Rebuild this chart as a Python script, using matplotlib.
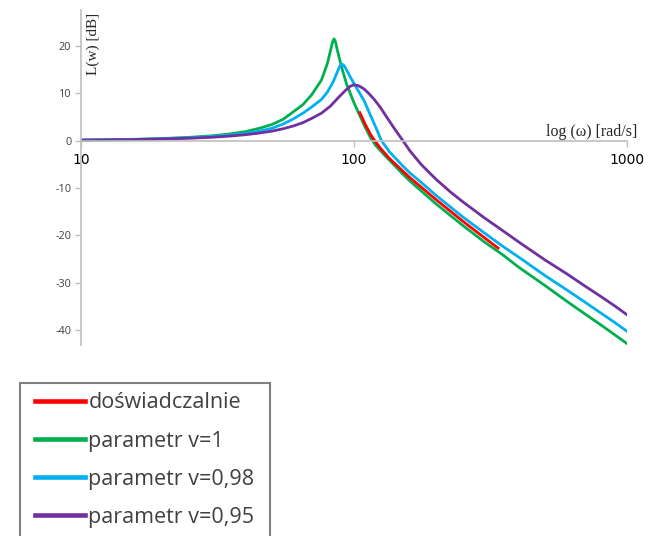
import numpy as np
import matplotlib
matplotlib.use('Agg')
import matplotlib.pyplot as plt
from matplotlib.lines import Line2D
from matplotlib.patches import Rectangle

plt.rcParams['axes.unicode_minus'] = False

# omega [rad/s], L [dB]
w_exp = [105, 110, 115, 119, 125, 135, 150, 160, 176, 200, 250, 300, 337]
L_exp = [5.9, 3.4, 1.3, 0.0, -1.6, -3.8, -6.3, -7.8, -9.8, -12.5, -17.0, -20.5, -22.7]

w_v1 = [10, 15, 20, 25, 30, 35, 40, 45, 50, 55, 59, 65, 70, 76, 80, 82, 83.5, 84.5, 85.5,
        87, 90, 94, 100, 105, 110, 115, 120, 130, 140, 150, 160, 176, 200, 250, 300, 350,
        400, 500, 600, 700, 800, 900, 1000]
L_v1 = [0.1, 0.25, 0.45, 0.7, 1.0, 1.4, 1.9, 2.6, 3.4, 4.5, 5.8, 7.6, 9.7, 12.8, 16.4, 19.0,
        20.9, 21.5, 20.9, 19.0, 15.6, 11.9, 8.0, 5.3, 2.8, 0.6, -1.0, -3.2, -5.1, -6.9, -8.5,
        -10.6, -13.4, -17.9, -21.4, -24.1, -26.7, -30.6, -33.9, -36.6, -38.9, -41.0, -42.9]

w_v098 = [10, 15, 20, 25, 30, 35, 40, 45, 50, 55, 60, 65, 70, 76, 80, 84, 87, 88.5, 90, 91.5,
          93, 97, 103, 109, 115, 120, 126, 135, 150, 160, 176, 200, 250, 300, 350, 410, 500,
          600, 700, 800, 900, 1000]
L_v098 = [0.1, 0.2, 0.4, 0.6, 0.85, 1.15, 1.5, 2.0, 2.6, 3.5, 4.6, 5.8, 7.1, 8.7, 10.3, 12.5,
          14.6, 15.6, 16.2, 16.0, 15.4, 13.4, 10.8, 8.4, 5.3, 2.9, 0.0, -2.4, -5.2, -6.8,
          -8.8, -11.6, -16.1, -19.5, -22.3, -25.0, -28.5, -31.5, -34.1, -36.4, -38.4, -40.3]

w_v095 = [10, 15, 20, 25, 30, 35, 40, 45, 50, 55, 60, 65, 70, 76, 82, 88, 93, 97, 100, 104,
          109, 114, 119, 125, 132, 140, 151, 160, 176, 200, 225, 250, 300, 350, 410, 500,
          600, 700, 800, 900, 1000]
L_v095 = [0.1, 0.2, 0.35, 0.5, 0.7, 0.95, 1.25, 1.6, 2.0, 2.5, 3.1, 3.8, 4.7, 5.8, 7.3, 9.2,
          10.6, 11.5, 11.8, 11.6, 10.9, 9.8, 8.6, 7.0, 4.9, 2.7, 0.0, -2.1, -5.0, -8.2,
          -10.8, -12.9, -16.3, -19.0, -21.8, -25.2, -28.1, -30.7, -32.9, -34.9, -36.8]

labels = ['doświadczalnie', 'parametr v=1', 'parametr v=0,98', 'parametr v=0,95']
colors = ['#ff0000', '#00b050', '#00b0f0', '#7030a0']

fig = plt.figure(figsize=(6.5, 5.36), dpi=100)
ax = fig.add_axes([0.1246, 0.3563, 0.8400, 0.6250])

ax.plot(w_v1, L_v1, color=colors[1], lw=2.0)
ax.plot(w_v098, L_v098, color=colors[2], lw=2.0)
ax.plot(w_v095, L_v095, color=colors[3], lw=2.0)
ax.plot(w_exp, L_exp, color=colors[0], lw=2.0)

ax.set_xscale('log')
ax.set_xlim(10, 1000)
ax.set_ylim(-43.2, 27.6)
ax.set_xticks([10, 100, 1000])
ax.set_xticklabels(['10', '100', '1000'], family='Liberation Serif', fontsize=8.5, color='#404040')
ax.xaxis.set_minor_locator(matplotlib.ticker.NullLocator())
ax.set_yticks([-40, -30, -20, -10, 0, 10, 20])
ax.set_yticklabels(['-40', '-30', '-20', '-10', '0', '10', '20'], family='Open Sans',
                   fontsize=7.8, color='#404040')

for s in ['top', 'right']:
    ax.spines[s].set_visible(False)
ax.spines['bottom'].set_position(('data', 0))
ax.spines['bottom'].set_color('#bfbfbf')
ax.spines['left'].set_color('#bfbfbf')
ax.spines['bottom'].set_linewidth(1.2)
ax.spines['left'].set_linewidth(1.2)
ax.tick_params(axis='both', color='#bfbfbf', length=4, width=1)
ax.tick_params(axis='x', pad=5)
ax.tick_params(axis='y', pad=3)

fig.text(93 / 650, 1 - 13 / 536, 'L(w) [dB]', rotation=90, ha='center', va='top',
         family='Liberation Serif', fontsize=11, color='#262626')
fig.text(546 / 650, 1 - 131.5 / 536, 'log (ω) [rad/s]', ha='left', va='center',
         family='Liberation Serif', fontsize=11.5, color='#262626')

# legend box runs off the bottom of the picture
fig.patches.append(Rectangle((19.5 / 650, -0.05), 250 / 650, 0.05 + 1 - 382.7 / 536,
                             transform=fig.transFigure, facecolor='white',
                             edgecolor='#808080', lw=1.5, zorder=1))

handles = [Line2D([], [], color=c, lw=3.3) for c in colors]
leg = fig.legend(handles, labels, loc='upper left', bbox_to_anchor=(35 / 650, 1 - 392.5 / 536),
                 prop={'family': 'Open Sans', 'size': 15.5}, frameon=False,
                 handlelength=2.3, handletextpad=0.18, labelspacing=0.79, borderpad=0,
                 borderaxespad=0)
leg.set_zorder(2)
for t in leg.get_texts():
    t.set_color('#404040')

fig.savefig('out.png', dpi=100)
